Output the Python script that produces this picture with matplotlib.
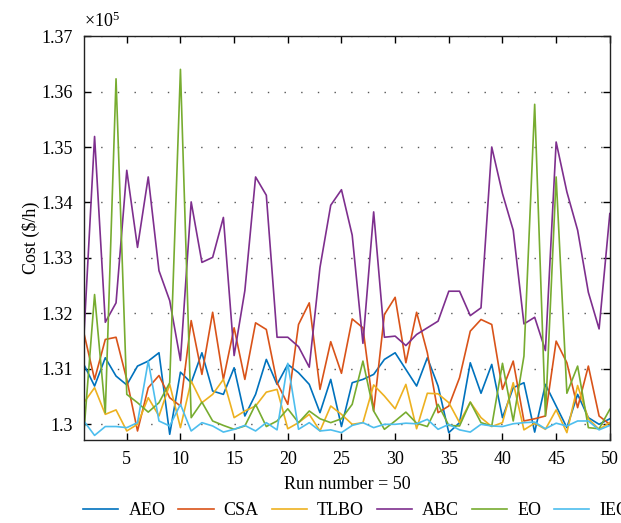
import matplotlib.pyplot as plt
from matplotlib.ticker import FormatStrFormatter

# cost values per run, in units of 1e5 $/h
runs = list(range(1, 51))

aeo = [1.3108, 1.3069, 1.3120, 1.3087, 1.3071, 1.3105, 1.3114, 1.3129, 1.2982, 1.3094,
       1.3075, 1.3129, 1.3060, 1.3054, 1.3102, 1.3015, 1.3054, 1.3117, 1.3072, 1.3108,
       1.3093, 1.3072, 1.3021, 1.3081, 1.2996, 1.3075, 1.3081, 1.3090, 1.3117, 1.3129,
       1.3099, 1.3069, 1.3120, 1.3069, 1.2985, 1.3003, 1.3111, 1.3056, 1.3108, 1.3012,
       1.3066, 1.3075, 1.2986, 1.3072, 1.3033, 1.2994, 1.3054, 1.3012, 1.3000, 1.3010]

csa = [1.3165, 1.3081, 1.3153, 1.3157, 1.3081, 1.2988, 1.3066, 1.3088, 1.3048, 1.3033,
       1.3187, 1.3090, 1.3202, 1.3081, 1.3174, 1.3081, 1.3183, 1.3171, 1.3075, 1.3036,
       1.3180, 1.3219, 1.3063, 1.3149, 1.3092, 1.3190, 1.3174, 1.3024, 1.3198, 1.3229,
       1.3111, 1.3202, 1.3129, 1.3021, 1.3033, 1.3084, 1.3168, 1.3189, 1.3180, 1.3063,
       1.3114, 1.3006, 1.3010, 1.3015, 1.3150, 1.3111, 1.3030, 1.3105, 1.3015, 1.3000]

tlbo = [1.3039, 1.3066, 1.3018, 1.3026, 1.2988, 1.3000, 1.3048, 1.3015, 1.3072, 1.2994,
        1.3078, 1.3039, 1.3054, 1.3081, 1.3012, 1.3024, 1.3033, 1.3058, 1.3063, 1.2992,
        1.3003, 1.3018, 1.2988, 1.3033, 1.3018, 1.3000, 1.3003, 1.3071, 1.3051, 1.3028,
        1.3072, 1.2992, 1.3056, 1.3055, 1.3039, 1.3003, 1.3040, 1.3012, 1.2996, 1.3003,
        1.3075, 1.2990, 1.3002, 1.2991, 1.3026, 1.2985, 1.3070, 1.3010, 1.2991, 1.3003]

abc = [1.3157, 1.3519, 1.3184, 1.3219, 1.3458, 1.3319, 1.3446, 1.3277, 1.3223, 1.3115,
       1.3401, 1.3292, 1.3301, 1.3373, 1.3124, 1.3241, 1.3446, 1.3413, 1.3157, 1.3157,
       1.3140, 1.3103, 1.3283, 1.3395, 1.3423, 1.3341, 1.3146, 1.3383, 1.3157, 1.3159,
       1.3142, 1.3162, 1.3174, 1.3186, 1.3240, 1.3240, 1.3196, 1.3210, 1.3500, 1.3416,
       1.3350, 1.3181, 1.3193, 1.3133, 1.3509, 1.3419, 1.3350, 1.3238, 1.3172, 1.3380]

eo = [1.2984, 1.3234, 1.3021, 1.3623, 1.3054, 1.3039, 1.3022, 1.3039, 1.3075, 1.3640,
      1.3012, 1.3040, 1.3006, 1.2998, 1.2991, 1.2997, 1.3036, 1.2996, 1.3006, 1.3028,
      1.3003, 1.3024, 1.3010, 1.3003, 1.3010, 1.3036, 1.3114, 1.3024, 1.2991, 1.3006,
      1.3022, 1.3002, 1.2996, 1.3036, 1.2998, 1.2997, 1.3040, 1.3003, 1.2997, 1.3110,
      1.3006, 1.3123, 1.3577, 1.3015, 1.3446, 1.3056, 1.3105, 1.2994, 1.2992, 1.3027]

ieo = [1.3006, 1.2980, 1.2996, 1.2996, 1.2994, 1.3003, 1.3114, 1.3006, 1.2997, 1.3036,
       1.2988, 1.3003, 1.2997, 1.2986, 1.2991, 1.2998, 1.2988, 1.3003, 1.2990, 1.3110,
       1.2991, 1.3003, 1.2988, 1.2990, 1.2985, 1.2998, 1.3003, 1.2994, 1.3000, 1.3000,
       1.3002, 1.3001, 1.3009, 1.2991, 1.3000, 1.2990, 1.2986, 1.3000, 1.2997, 1.2996,
       1.3001, 1.3003, 1.3004, 1.2992, 1.3002, 1.2997, 1.3006, 1.3006, 1.2990, 1.2998]

labels = ["AEO", "CSA", "TLBO", "ABC", "EO", "IEO"]
colors = ["#0072BD", "#D95319", "#EDB120", "#7E2F8E", "#77AC30", "#4DBEEE"]

plt.rcParams["font.family"] = ["Liberation Serif", "DejaVu Serif"]
plt.rcParams["font.size"] = 13
plt.rcParams["mathtext.fontset"] = "custom"
plt.rcParams["mathtext.rm"] = "Liberation Serif"
plt.rcParams["mathtext.default"] = "rm"

fig = plt.figure(figsize=(6.21, 5.23), dpi=100)
ax = fig.add_axes([0.135, 0.159, 0.847, 0.772])

for series, lab, col in zip([aeo, csa, tlbo, abc, eo, ieo], labels, colors):
    ax.plot(runs, series, color=col, linewidth=1.2, label=lab)

ax.set_xlim(1, 50)
ax.set_ylim(1.2972, 1.37)
ax.set_xticks(range(5, 51, 5))
ax.set_yticks([1.30, 1.31, 1.32, 1.33, 1.34, 1.35, 1.36, 1.37])
ax.yaxis.set_major_formatter(FormatStrFormatter("%g"))
ax.tick_params(direction="in", top=True, right=True, length=5, width=1, pad=8)
ax.yaxis.grid(True, linestyle=(0, (1, 11)), color="#555555", linewidth=1.0)
for s in ax.spines.values():
    s.set_linewidth(1.0)
    s.set_color("#222222")

ax.text(0.0, 1.012, r"$\times10^5$", transform=ax.transAxes, ha="left", va="bottom", fontsize=13)
ax.set_xlabel("Run number = 50", labelpad=6)
ax.set_ylabel("Cost ($/h)", labelpad=1)

# legend row runs past the right edge, as in the original figure
fig.legend(loc="center left", bbox_to_anchor=(0.134, 0.023), ncol=6, frameon=False,
           handlelength=1.95, columnspacing=0.72, handletextpad=0.55, fontsize=13,
           borderaxespad=0, borderpad=0)

fig.savefig("out.png", dpi=100)
